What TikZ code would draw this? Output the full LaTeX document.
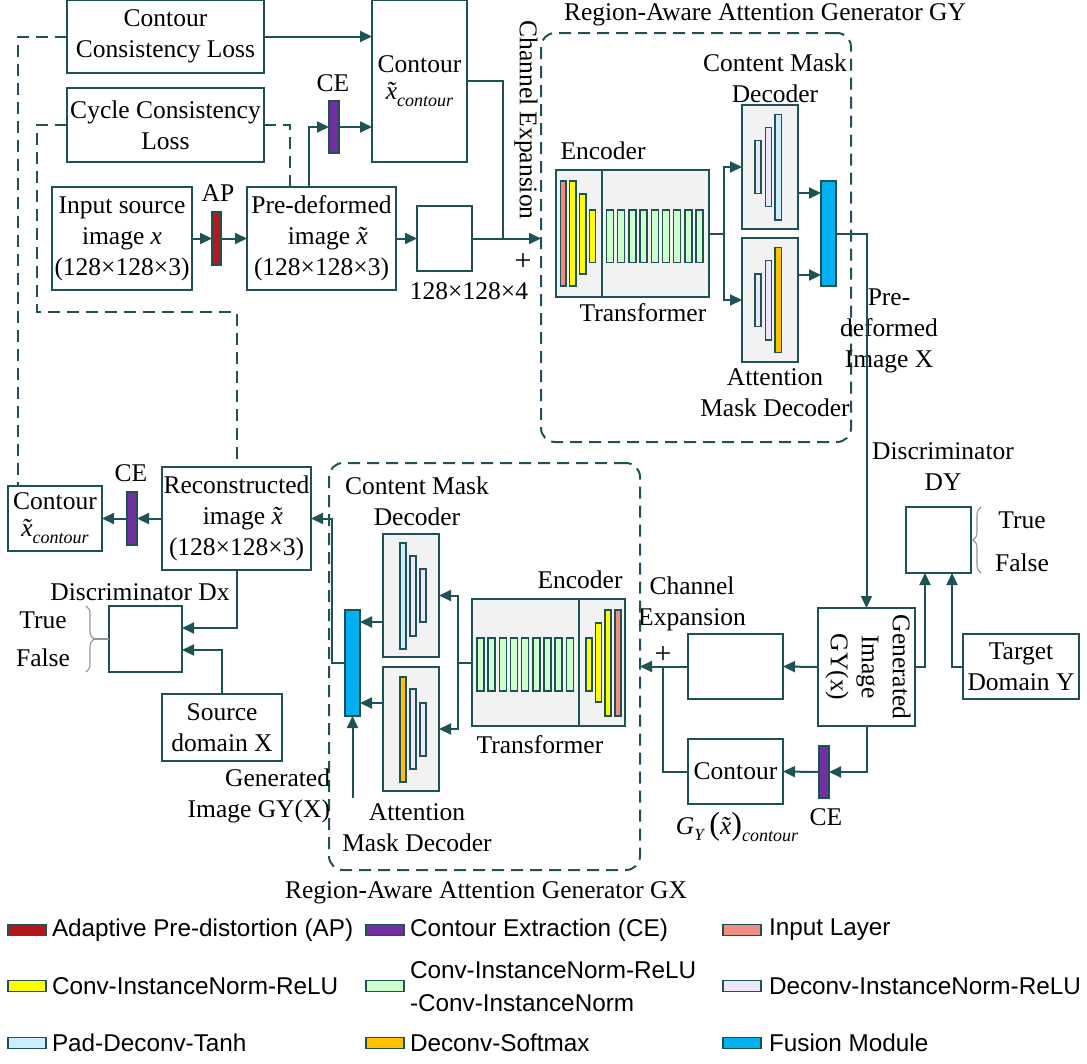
\documentclass[tikz,border=0pt]{standalone}
\usepackage{fontspec}
\setmainfont{Liberation Serif}
\newfontfamily\legfont{Liberation Sans}
\usetikzlibrary{arrows.meta,decorations.pathreplacing,calc}
\definecolor{lc}{RGB}{30,82,84}
\definecolor{apred}{RGB}{176,26,26}
\definecolor{cepur}{RGB}{112,48,160}
\definecolor{insal}{RGB}{240,140,130}
\definecolor{cyel}{RGB}{255,255,0}
\definecolor{tgreen}{RGB}{204,255,204}
\definecolor{dlav}{RGB}{236,230,250}
\definecolor{tblue}{RGB}{204,236,255}
\definecolor{sorange}{RGB}{255,192,0}
\definecolor{fblue}{RGB}{0,176,240}
\definecolor{modgray}{RGB}{242,242,242}
\definecolor{brgray}{RGB}{140,150,150}
\newcommand{\xt}{\ooalign{\textit{x}\cr\hidewidth\textit{\char"02DC}\hidewidth\cr}}
\newcommand{\subc}{\raisebox{-7pt}{\fontsize{18}{18}\selectfont\textit{contour}}}
\newcommand{\lyr}[5]{\draw[bar,fill=#5] (#1,#2) rectangle (#3,#4);}
\begin{document}
\begin{tikzpicture}[x=1pt,y=-1pt,
  every node/.style={font=\fontsize{25.5}{31}\selectfont, inner sep=0pt, outer sep=0pt},
  box/.style={draw=lc, line width=2pt, fill=white, align=center},
  mod/.style={draw=lc, line width=2pt, fill=modgray},
  bar/.style={draw=lc, line width=1.4pt},
  ln/.style={draw=lc, line width=2pt},
  arr/.style={draw=lc, line width=2pt, -{Triangle[length=12pt,width=11pt]}},
  dsh/.style={draw=lc, line width=2pt, dash pattern=on 12pt off 7pt},
  brc/.style={draw=brgray, line width=1.1pt, decorate},
  swatch/.style={draw=lc, line width=1.6pt, minimum width=38pt, minimum height=11pt},
  legtext/.style={font=\legfont\fontsize{24.3}{33}\selectfont, anchor=west, align=left},
  plussign/.style={font=\fontsize{30}{30}\selectfont},
]
\useasboundingbox (0,0) rectangle (1087,1063);

% ---------------- top-left ----------------
\node[box, minimum width=197pt, minimum height=73pt] (ccl) at (165.5,36.5) {Contour\\Consistency Loss};
\node[box, minimum width=95pt, minimum height=162pt] (ctr1) at (419.5,81) {Contour\\[-4pt]\xt\subc};
\node[box, minimum width=197pt, minimum height=74pt] (cyc) at (165.5,125) {Cycle Consistency\\Loss};
\node[box, minimum width=140pt, minimum height=103pt] (inp) at (122,238.5) {Input source\\image \textit{x}\\(128×128×3)};
\node[bar, fill=apred, minimum width=9pt, minimum height=53pt] (ap) at (216.5,238.5) {};
\node (aplbl) at (218,193) {AP};
\node[box, minimum width=149pt, minimum height=103pt] (pre) at (321.5,238.5) {Pre-deformed\\\ \ image \xt\\(128×128×3)};
\node[box, minimum width=55pt, minimum height=65pt] (sm) at (444.5,238.5) {};
\node (smlbl) at (469,291) {128×128×4};
\node[bar, fill=cepur, minimum width=10pt, minimum height=52pt] (ce1) at (334,127) {};
\node (ce1lbl) at (333,83) {CE};
\node[rotate=-90] (chx1lbl) at (526,120) {Channel Expansion};
\node[plussign] (plus1) at (523,262) {+};

\coordinate (gyL) at (541,238.5);
\coordinate (j1) at (503,238.5);
\draw[arr] (ccl.east) -- (ccl.east -| ctr1.west);
\draw[arr] ($(pre.north west)+(62,0)$) |- (ce1.west);
\draw[arr] (ce1.east) -- (ce1.east -| ctr1.west);
\draw[arr] (inp.east) -- (ap.west);
\draw[arr] (ap.east) -- (pre.west);
\draw[arr] (pre.east) -- (sm.west);
\draw[arr] (sm.east) -- (gyL);
\draw[ln] (ctr1.east) -| (j1);

% ---------------- generator GY ----------------
\node[dsh, rounded corners=14pt, minimum width=310pt, minimum height=409pt] (GY) at (696,237.5) {};
\node (gytitle) at (765,15) {Region-Aware Attention Generator GY};
\node[mod, minimum width=153pt, minimum height=127pt] (encY) at (632.5,233.5) {};
\draw[ln] (602.1,170) -- (602.1,297);
\lyr{560.2}{181}{565.9}{286}{insal}
\lyr{569.4}{181}{575.8}{286}{cyel}
\lyr{579.4}{194}{585.8}{274}{cyel}
\lyr{589.3}{210}{595.7}{262.3}{cyel}
\foreach \i in {0,...,8} {\pgfmathsetmacro\xa{606.4+11.2*\i}
  \draw[bar,fill=tgreen] (\xa,210) rectangle ({\xa+7},262.3);}
\node (encYlbl) at (603,151) {Encoder};
\node (trYlbl) at (643,313) {Transformer};

\node[mod, minimum width=56pt, minimum height=124pt] (decCY) at (770,167) {};
\lyr{754.9}{140.7}{760.9}{193.3}{dlav}
\lyr{765.2}{127.3}{771.6}{206.7}{dlav}
\lyr{775.1}{114.3}{781.2}{220}{tblue}
\node[mod, minimum width=56pt, minimum height=124pt] (decAY) at (770,300) {};
\lyr{754.9}{274}{760.9}{326.7}{dlav}
\lyr{765.2}{260.7}{771.6}{340}{dlav}
\lyr{775.1}{247.3}{781.2}{352.7}{sorange}
\node[align=center] (decCYlbl) at (775,78) {Content Mask\\Decoder};
\node[align=center] (decAYlbl) at (775,393) {Attention\\Mask Decoder};
\node[bar, fill=fblue, minimum width=15pt, minimum height=105pt] (fusY) at (828.5,233.5) {};

\coordinate (brY) at (723.6,233.5);
\draw[ln] (encY.east) -- (brY);
\draw[arr] (brY) |- (decCY.west);
\draw[arr] (brY) |- (decAY.west);
\draw[arr] (decCY.east |- 0,193) -- (fusY.west |- 0,193);
\draw[arr] (decAY.east |- 0,275) -- (fusY.west |- 0,275);

\node[align=center] (prexlbl) at (889,331) {Pre-\\deformed\\Image X};

% ---------------- bottom right ----------------
\node[box, minimum width=97pt, minimum height=118pt] (gen) at (866.5,667) {};
\node[rotate=-90, align=center] (genlbl) at (868,667) {Generated\\Image\\GY(x)};
\node[box, minimum width=65pt, minimum height=66pt] (dy) at (938.5,540) {};
\node[align=center] (dylbl) at (943,467) {Discriminator\\DY};
\node (true2) at (1022,520) {True};
\node (false2) at (1022,563) {False};
\draw[brc, decoration={brace, amplitude=8pt}] (981,573) -- (981,507);
\node[box, minimum width=116pt, minimum height=65pt] (tgt) at (1021,666.5) {Target\\Domain Y};
\node[box, minimum width=95pt, minimum height=65pt] (chx2) at (735.5,666.5) {};
\node[align=center] (chx2lbl) at (692,604) {Channel\\Expansion};
\node[plussign] (plus2) at (663,655) {+};
\node[box, minimum width=95pt, minimum height=65pt] (ctr2) at (735.5,771.5) {Contour};
\node[bar, fill=cepur, minimum width=10pt, minimum height=52pt] (ce2) at (824,772) {};
\node (ce2lbl) at (826,817) {CE};
\node (gyctr) at (737,827) {\textit{G}\raisebox{-6pt}{\fontsize{17}{17}\selectfont\textit{Y}}\,{\fontsize{32}{32}\selectfont(}\xt{\fontsize{32}{32}\selectfont)}\subc};

\coordinate (gxR) at (640,666.5);
\coordinate (j2) at (663,666.5);
\draw[arr] (fusY.east) -| (gen.north);
\draw[arr] (gen.east) -| ($(dy.south west)+(19,0)$);
\draw[arr] (tgt.west) -| ($(dy.south west)+(46,0)$);
\draw[arr] (gen.west) -- (chx2.east);
\draw[arr] (chx2.west) -- (gxR);
\draw[ln] (ctr2.west) -| (j2);
\draw[arr] (gen.south) |- (ce2.east);
\draw[arr] (ce2.west) -- (ctr2.east);

% ---------------- generator GX ----------------
\node[dsh, rounded corners=14pt, minimum width=311pt, minimum height=407pt] (GX) at (484.5,666.5) {};
\node (gxtitle) at (486,893) {Region-Aware Attention Generator GX};
\node[mod, minimum width=153pt, minimum height=127pt] (encX) at (548.5,662.5) {};
\draw[ln] (579,599) -- (579,726);
\foreach \i in {0,...,8} {\pgfmathsetmacro\xa{477+11.17*\i}
  \draw[bar,fill=tgreen] (\xa,638) rectangle ({\xa+7},691);}
\lyr{586}{638}{592}{691}{cyel}
\lyr{595.5}{623}{601.5}{702}{cyel}
\lyr{605}{610}{611}{716}{cyel}
\lyr{615}{610}{621}{716}{insal}
\node (encXlbl) at (580,580) {Encoder};
\node (trXlbl) at (540,745) {Transformer};

\node[mod, minimum width=56pt, minimum height=123pt] (decCX) at (411,595.5) {};
\lyr{400}{543}{406}{649}{tblue}
\lyr{410}{556}{416}{636}{dlav}
\lyr{420}{569}{426}{622}{dlav}
\node[mod, minimum width=56pt, minimum height=124pt] (decAX) at (411,729) {};
\lyr{400}{677}{406}{782}{sorange}
\lyr{410}{689}{416}{769}{dlav}
\lyr{420}{703}{426}{756}{dlav}
\node[align=center] (decCXlbl) at (417,501.5) {Content Mask\\Decoder};
\node[align=center] (decAXlbl) at (417,827.5) {Attention\\Mask Decoder};
\node[bar, fill=fblue, minimum width=15pt, minimum height=106pt] (fusX) at (352.5,663) {};

\coordinate (brX) at (458,662.5);
\coordinate (gyxIn) at (352.5,798);
\draw[ln] (encX.west) -- (brX);
\draw[arr] (brX) |- (decCX.east);
\draw[arr] (brX) |- (decAX.east);
\draw[arr] (decCX.west |- 0,622) -- (fusX.east |- 0,622);
\draw[arr] (decAX.west |- 0,703) -- (fusX.east |- 0,703);
\draw[arr] (gyxIn) -- (fusX.south);
\node[align=right, anchor=east] (gyxlbl) at (330,796) {Generated\\Image GY(X)};

% ---------------- bottom left ----------------
\node[box, minimum width=94pt, minimum height=65pt] (ctr3) at (55,518.5) {Contour\\[-4pt]\xt\subc};
\node[bar, fill=cepur, minimum width=10pt, minimum height=53pt] (ce3) at (132,518.5) {};
\node (ce3lbl) at (131,473) {CE};
\node[box, minimum width=149pt, minimum height=103pt] (rec) at (236.5,518.5) {Reconstructed\\\ \ image \xt\\(128×128×3)};
\node[box, minimum width=73pt, minimum height=66pt] (dx) at (145.5,639) {};
\node (dxlbl) at (140,592) {Discriminator Dx};
\node (true1) at (43,620) {True};
\node (false1) at (43,658) {False};
\draw[brc, decoration={brace, amplitude=8pt}] (86,606) -- (86,672);
\draw[draw=brgray, line width=1.1pt] (94,639) -- (dx.west);
\node[box, minimum width=120pt, minimum height=67pt] (src) at (222,727.5) {Source\\domain X};

\draw[arr] (fusX.west) -| ($(rec.east)+(21,0)$) -- (rec.east);
\draw[arr] (rec.west) -- (ce3.east);
\draw[arr] (ce3.west) -- (ctr3.east);
\draw[arr] (rec.south) |- ($(dx.north east)+(0,22)$);
\draw[arr] (src.north) |- ($(dx.north east)+(0,44)$);

% dashed loss paths
\draw[dsh] (ccl.west) -| ($(ctr3.north west)+(10,0)$);
\draw[dsh] (cyc.west) -- (37,125) -- (37,312) -| (rec.north);
\draw[dsh] (cyc.east) -| ($(pre.north west)+(43,0)$);

% ---------------- legend ----------------
\node[swatch, fill=apred] (s1) at (27,930) {};
\node[legtext] (t1) at (52,930) {Adaptive Pre-distortion (AP)};
\node[swatch, fill=cepur] (s2) at (385,930) {};
\node[legtext] (t2) at (410,930) {Contour Extraction (CE)};
\node[swatch, fill=insal] (s3) at (742,930) {};
\node[legtext] (t3) at (769,930) {Input Layer};
\node[swatch, fill=cyel] (s4) at (27,986) {};
\node[legtext] (t4) at (52,986) {Conv-InstanceNorm-ReLU};
\node[swatch, fill=tgreen] (s5) at (385,986) {};
\node[legtext] (t5) at (410,986.5) {Conv-InstanceNorm-ReLU\\-Conv-InstanceNorm};
\node[swatch, fill=dlav] (s6) at (742,986) {};
\node[legtext] (t6) at (769,986) {Deconv-InstanceNorm-ReLU};
\node[swatch, fill=tblue] (s7) at (27,1043) {};
\node[legtext] (t7) at (52,1043) {Pad-Deconv-Tanh};
\node[swatch, fill=sorange] (s8) at (385,1043) {};
\node[legtext] (t8) at (410,1043) {Deconv-Softmax};
\node[swatch, fill=fblue] (s9) at (742,1043) {};
\node[legtext] (t9) at (769,1043) {Fusion Module};
\end{tikzpicture}
\end{document}
